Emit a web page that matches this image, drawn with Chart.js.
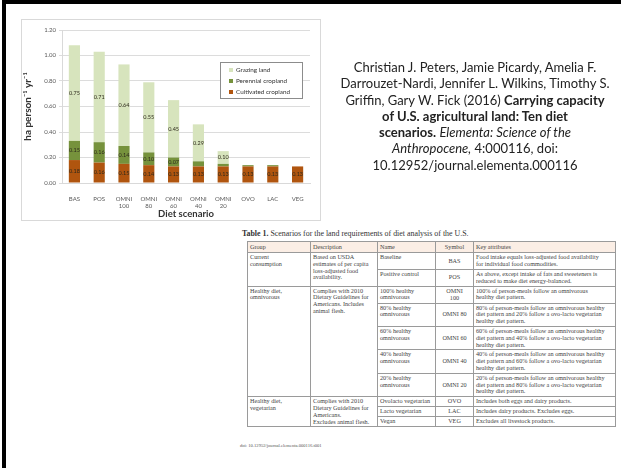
<!DOCTYPE html>
<html><head><meta charset="utf-8">
<script src="https://cdn.jsdelivr.net/npm/chart.js@4/dist/chart.umd.min.js"></script>
<style>
html,body{margin:0;padding:0;background:#fff;width:621px;height:468px;overflow:hidden;position:relative;font-family:Lato,sans-serif}
#slideborder{position:absolute;left:2px;top:0;width:640px;height:480px;border-left:4px solid #000;border-top:4px solid #000;box-sizing:border-box}
#chartbox{position:absolute;left:21px;top:19px;width:298px;height:200px;border:1px solid #d9d9d9;background:#fff}
#chartbox canvas{position:absolute;left:0;top:0}
#legend{position:absolute;left:220px;top:62px;width:81px;height:35px;border:1px solid #8c8c8c;background:#fff;font-family:Lato,sans-serif;font-size:6.3px;color:#333}
#legend div{position:absolute;left:8px;white-space:nowrap;line-height:8px}
#legend span{display:inline-block;width:4px;height:4px;margin-right:3px;vertical-align:0px}
#cite{position:absolute;left:325px;top:59px;width:300px;text-align:center;font-family:Lato,sans-serif;font-size:13px;line-height:16.3px;color:#222;white-space:nowrap}
#ttitle{position:absolute;left:242px;top:229px;font-family:'Liberation Serif',serif;font-size:7.9px;color:#333;white-space:nowrap}
#tbl{position:absolute;left:247px;top:241px;border-collapse:collapse;table-layout:fixed;font-family:'Liberation Serif',serif;font-size:6.2px;line-height:6.8px;color:#444}
#tbl td{border:0.6px solid #9a9a9a;padding:1px 2px;vertical-align:top;overflow:hidden;white-space:nowrap}
#tbl tr.h td{background:#fbeee5;height:8px;vertical-align:middle}
#tbl td.s{text-align:center;vertical-align:middle;padding:1px 1px}
#doi{position:absolute;left:240px;top:443px;font-family:'Liberation Serif',serif;font-size:4.6px;color:#555;white-space:nowrap}
</style></head>
<body>
<div id="slideborder"></div>
<div id="chartbox"><canvas id="c" width="298" height="200"></canvas></div>
<div id="legend">
 <div style="top:3px"><span style="background:#d7e4bd"></span>Grazing land</div>
 <div style="top:14px"><span style="background:#76923c"></span>Perennial cropland</div>
 <div style="top:25px"><span style="background:#b0550f"></span>Cultivated cropland</div>
</div>
<div id="cite">Christian J. Peters, Jamie Picardy, Amelia F.<br>Darrouzet-Nardi, Jennifer L. Wilkins, Timothy S.<br>Griffin, Gary W. Fick (2016) <b>Carrying capacity</b><br><b>of U.S. agricultural land: Ten diet</b><br><b>scenarios.</b> <i>Elementa: Science of the</i><br><i>Anthropocene,</i> 4:000116, doi:<br>10.12952/journal.elementa.000116</div>
<div id="ttitle"><b>Table 1.</b> Scenarios for the land requirements of diet analysis of the U.S.</div>
<table id="tbl">
<colgroup><col style="width:63px"><col style="width:67px"><col style="width:58px"><col style="width:38px"><col style="width:142px"></colgroup>
<tr class="h"><td>Group</td><td>Description</td><td>Name</td><td class="s">Symbol</td><td>Key attributes</td></tr>
<tr style="height:17px"><td rowspan="2">Current<br>consumption</td><td rowspan="2">Based on USDA<br>estimates of per capita<br>loss-adjusted food<br>availability.</td><td>Baseline</td><td class="s">BAS</td><td>Food intake equals loss-adjusted food availability<br>for individual food commodities.</td></tr>
<tr style="height:16px"><td>Positive control</td><td class="s">POS</td><td>As above, except intake of fats and sweeteners is<br>reduced to make diet energy-balanced.</td></tr>
<tr style="height:17px"><td rowspan="5">Healthy diet,<br>omnivorous</td><td rowspan="5">Complies with 2010<br>Dietary Guidelines for<br>Americans. Includes<br>animal flesh.</td><td>100% healthy<br>omnivorous</td><td class="s">OMNI<br>100</td><td>100% of person-meals follow an omnivorous<br>healthy diet pattern.</td></tr>
<tr style="height:23px"><td>80% healthy<br>omnivorous</td><td class="s">OMNI 80</td><td>80% of person-meals follow an omnivorous healthy<br>diet pattern and 20% follow a ovo-lacto vegetarian<br>healthy diet pattern.</td></tr>
<tr style="height:23px"><td>60% healthy<br>omnivorous</td><td class="s">OMNI 60</td><td>60% of person-meals follow an omnivorous healthy<br>diet pattern and 40% follow a ovo-lacto vegetarian<br>healthy diet pattern.</td></tr>
<tr style="height:23px"><td>40% healthy<br>omnivorous</td><td class="s">OMNI 40</td><td>40% of person-meals follow an omnivorous healthy<br>diet pattern and 60% follow a ovo-lacto vegetarian<br>healthy diet pattern.</td></tr>
<tr style="height:23px"><td>20% healthy<br>omnivorous</td><td class="s">OMNI 20</td><td>20% of person-meals follow an omnivorous healthy<br>diet pattern and 80% follow a ovo-lacto vegetarian<br>healthy diet pattern.</td></tr>
<tr style="height:10px"><td rowspan="3">Healthy diet,<br>vegetarian</td><td rowspan="3">Complies with 2010<br>Dietary Guidelines for<br>Americans.<br>Excludes animal flesh.</td><td>Ovolacto vegetarian</td><td class="s">OVO</td><td>Includes both eggs and dairy products.</td></tr>
<tr style="height:10px"><td>Lacto vegetarian</td><td class="s">LAC</td><td>Includes dairy products. Excludes eggs.</td></tr>
<tr style="height:10px"><td>Vegan</td><td class="s">VEG</td><td>Excludes all livestock products.</td></tr>
</table>
<div id="doi">doi: 10.12952/journal.elementa.000116.t001</div>
<script>
const categories = ['BAS','POS',['OMNI','100'],['OMNI','80'],['OMNI','60'],['OMNI','40'],['OMNI','20'],'OVO','LAC','VEG'];
const cultivated = [0.18,0.16,0.15,0.14,0.13,0.13,0.13,0.13,0.13,0.13];
const perennial  = [0.15,0.16,0.14,0.10,0.07,0.04,0.02,0.01,0.01,0.00];
const grazing    = [0.75,0.71,0.64,0.55,0.45,0.29,0.10,0.00,0.00,0.00];
const yTicks = [0,0.2,0.4,0.6,0.8,1.0,1.2];

const labelPlugin = {
  id:'segLabels',
  afterDatasetsDraw(chart){
    const ctx = chart.ctx;
    ctx.save();
    ctx.font = '5.5px Lato, sans-serif';
    ctx.textAlign = 'center';
    ctx.textBaseline = 'middle';
    chart.data.datasets.forEach((ds,di)=>{
      const meta = chart.getDatasetMeta(di);
      meta.data.forEach((bar,i)=>{
        const v = ds.data[i];
        if (v < 0.05) return;
        ctx.fillStyle = '#2e2a1c';
        ctx.fillText(v.toFixed(2), bar.x, (bar.y + bar.base)/2);
      });
    });
    ctx.restore();
  }
};

new Chart(document.getElementById('c'), {
  type:'bar',
  data:{
    labels: categories,
    datasets:[
      {label:'Cultivated cropland', data:cultivated, backgroundColor:'#b0550f'},
      {label:'Perennial cropland', data:perennial, backgroundColor:'#76923c'},
      {label:'Grazing land', data:grazing, backgroundColor:'#d7e4bd'}
    ]
  },
  options:{
    responsive:false, animation:false, devicePixelRatio:1,
    datasets:{bar:{barPercentage:0.9, categoryPercentage:0.5}},
    layout:{padding:{top:10,right:10,left:0,bottom:0}},
    plugins:{legend:{display:false}, tooltip:{enabled:false}},
    scales:{
      x:{stacked:true, grid:{display:false}, border:{color:'#d9d9d9'},
         ticks:{font:{size:6,family:'Lato'}, color:'#595959', maxRotation:0, autoSkip:false, padding:4},
         title:{display:true, text:'Diet scenario', font:{size:9.5,weight:'bold',family:'Lato'}, color:'#333', padding:{top:2,bottom:0}},
         afterFit(s){ s.height = 37; }},
      y:{stacked:true, min:0, max:1.2,
         afterBuildTicks(s){ s.ticks = yTicks.map(v=>({value:v})); },
         ticks:{callback:v=>Number(v).toFixed(2), font:{size:6,family:'Lato'}, color:'#595959', padding:3},
         grid:{color:'#dcdcdc', tickLength:3},
         border:{display:true, color:'#d9d9d9'},
         title:{display:true, text:'ha person\u207B\u00B9 yr\u207B\u00B9', font:{size:10,weight:'bold',family:'Lato'}, color:'#333', padding:{top:0,bottom:2}},
         afterFit(s){ s.width = 40; }}
    }
  },
  plugins:[labelPlugin]
});
</script>
</body></html>
